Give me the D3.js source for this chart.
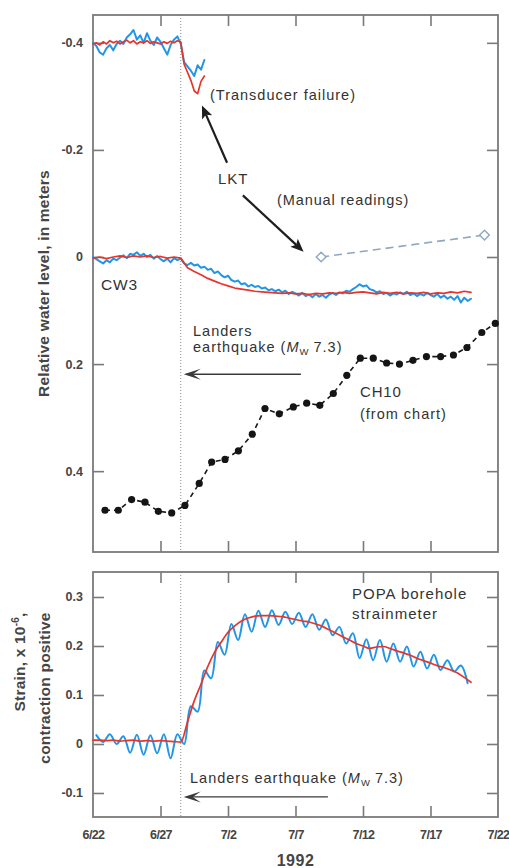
<!DOCTYPE html>
<html>
<head>
<meta charset="utf-8">
<script src="https://cdn.jsdelivr.net/npm/d3@7"></script>
<style>
  body { margin: 0; background: #fff; }
  svg { display: block; }
  text { font-family: "Liberation Sans", Arial, Helvetica, sans-serif; }
</style>
</head>
<body>
<svg id="chart" width="509" height="868"></svg>
<script>
// Time axis: days after 22 June 1992
const dateTicks = [0, 5, 10, 15, 20, 25, 30];
const dateLabels = ["6/22", "6/27", "7/2", "7/7", "7/12", "7/17", "7/22"];
const quakeDay = 6.5;   // Landers earthquake, 28 June 1992

// Water-level axis (depth to water, positive downward on the page)
const waterTicks = [-0.4, -0.2, 0, 0.2, 0.4];
const waterTickLabels = ["-0.4", "-0.2", "0", "0.2", "0.4"];

// Strain axis
const strainTicks = [-0.1, 0, 0.1, 0.2, 0.3];
const strainTickLabels = ["-0.1", "0", "0.1", "0.2", "0.3"];

// LKT well, transducer record (0.25-day samples from 6/22)
const lktStart = 0, lktStep = 0.25;
const lktBlue = [-0.400, -0.394, -0.382, -0.378, -0.390, -0.396, -0.386, -0.398, -0.404, -0.398,
  -0.410, -0.416, -0.424, -0.406, -0.414, -0.400, -0.418, -0.404, -0.396, -0.410,
  -0.402, -0.390, -0.378, -0.396, -0.406, -0.412, -0.398, -0.364, -0.356, -0.348,
  -0.338, -0.358, -0.350, -0.368];
const lktRed = [-0.398, -0.400, -0.396, -0.402, -0.398, -0.404, -0.400, -0.403, -0.398, -0.402,
  -0.405, -0.400, -0.404, -0.398, -0.402, -0.400, -0.404, -0.399, -0.402, -0.400,
  -0.398, -0.402, -0.399, -0.403, -0.400, -0.404, -0.402, -0.360, -0.345, -0.330,
  -0.310, -0.305, -0.328, -0.338];

// LKT manual readings
const manualDays = [16.9, 29.0];
const manualLevel = [0.0, -0.041];

// CW3 well
const cw3BlueStart = 0, cw3BlueStep = 0.25;
const cw3Blue = [0.000, 0.004, 0.008, 0.012, 0.006, 0.010, 0.003, 0.006, 0.001, -0.003,
  0.002, -0.006, -0.004, -0.009, -0.002, -0.006, 0.000, -0.004, 0.003, -0.002,
  0.004, 0.008, 0.003, 0.010, 0.002, 0.006, 0.003, 0.012, 0.015, 0.011,
  0.016, 0.014, 0.020, 0.018, 0.024, 0.022, 0.030, 0.027, 0.034, 0.038,
  0.035, 0.043, 0.046, 0.044, 0.051, 0.049, 0.055, 0.052, 0.056, 0.054,
  0.059, 0.057, 0.062, 0.060, 0.064, 0.061, 0.066, 0.063, 0.069, 0.065,
  0.068, 0.072, 0.067, 0.073, 0.070, 0.075, 0.069, 0.074, 0.071, 0.076,
  0.070, 0.067, 0.071, 0.066, 0.068, 0.063, 0.065, 0.060, 0.056, 0.051,
  0.055, 0.053, 0.060, 0.062, 0.066, 0.064, 0.069, 0.067, 0.072, 0.068,
  0.070, 0.066, 0.069, 0.065, 0.071, 0.068, 0.073, 0.069, 0.072, 0.067,
  0.071, 0.074, 0.069, 0.076, 0.072, 0.078, 0.074, 0.080, 0.073, 0.085,
  0.076, 0.082, 0.078];
const cw3RedStart = 0, cw3RedStep = 0.5;
const cw3Red = [0.002, 0.000, 0.003, 0.000, -0.002, 0.001, -0.002, 0.000, -0.002, 0.001,
  -0.001, 0.002, 0.000, 0.002, 0.020, 0.027, 0.033, 0.040, 0.045, 0.050,
  0.054, 0.058, 0.060, 0.062, 0.064, 0.065, 0.066, 0.067, 0.068, 0.067,
  0.069, 0.068, 0.070, 0.068, 0.069, 0.067, 0.068, 0.066, 0.068, 0.066,
  0.065, 0.067, 0.069, 0.066, 0.068, 0.066, 0.069, 0.067, 0.068, 0.066,
  0.069, 0.067, 0.068, 0.065, 0.067, 0.064, 0.066];

const ch10Days = [0.89, 1.87, 2.86, 3.85, 4.84, 5.83, 6.81, 7.87, 8.79, 9.78,
  10.77, 11.8, 12.74, 13.8, 14.84, 15.83, 16.8, 17.8, 18.8, 19.8,
  20.76, 21.75, 22.7, 23.7, 24.7, 25.75, 26.7, 27.7, 28.8, 29.8];
const ch10Level = [0.473, 0.473, 0.453, 0.458, 0.475, 0.478, 0.464, 0.423, 0.383, 0.378,
  0.362, 0.331, 0.283, 0.293, 0.280, 0.273, 0.277, 0.255, 0.221, 0.189,
  0.189, 0.198, 0.200, 0.193, 0.186, 0.186, 0.183, 0.169, 0.141, 0.124];

// POPA borehole strainmeter: raw (tidal) record and detided curve
const strainBlueStart = 0.25, strainBlueStep = 0.5;
const strainBlue = [0.018, 0.004, 0.020, 0.000, 0.016, -0.018, 0.019, -0.022, 0.018, -0.019,
  0.020, -0.029, 0.020, 0.000, 0.077, 0.066, 0.150, 0.134, 0.208, 0.182,
  0.245, 0.212, 0.265, 0.229, 0.272, 0.239, 0.273, 0.243, 0.270, 0.245,
  0.268, 0.239, 0.265, 0.233, 0.254, 0.222, 0.239, 0.205, 0.226, 0.175,
  0.214, 0.171, 0.212, 0.168, 0.205, 0.168, 0.199, 0.158, 0.188, 0.154,
  0.182, 0.151, 0.171, 0.148, 0.160, 0.124];
const strainRedStart = 0, strainRedStep = 0.5;
const strainRed = [0.008, 0.008, 0.007, 0.008, 0.006, 0.007, 0.008, 0.006, 0.007, 0.006,
  0.007, 0.006, 0.005, 0.004, 0.045, 0.088, 0.122, 0.158, 0.187, 0.208,
  0.228, 0.241, 0.251, 0.257, 0.261, 0.262, 0.262, 0.261, 0.260, 0.257,
  0.254, 0.251, 0.249, 0.245, 0.240, 0.233, 0.226, 0.219, 0.212, 0.205,
  0.200, 0.195, 0.198, 0.199, 0.195, 0.190, 0.186, 0.181, 0.175, 0.170,
  0.165, 0.160, 0.156, 0.151, 0.145, 0.136, 0.126];

// ---------------------------------------------------------------------------
const BLUE = "#2196e6", RED = "#e8352b", FRAME = "#7a7a7a", INK = "#333333";

const svg = d3.select("#chart");
const left = 93, right = 498;
const top1 = 15, bottom1 = 552;
const top2 = 572, bottom2 = 817;

const x = d3.scaleLinear().domain([0, 30]).range([left, right]);
const yW = d3.scaleLinear().domain([-0.452, 0.551]).range([top1, bottom1]);
const yS = d3.scaleLinear().domain([0.351, -0.149]).range([top2, bottom2]);

const series = (start, step, vals) => vals.map((v, i) => [start + i * step, v]);

function frame(yScale, y0, y1, ticks, labels, showDates) {
  const g = svg.append("g");
  const tick = 11;
  const axes = [
    g.append("g").attr("transform", `translate(${left},0)`)
      .call(d3.axisLeft(yScale).tickValues(ticks).tickFormat((d, i) => labels[i])
        .tickSizeInner(-tick).tickSizeOuter(0).tickPadding(10)),
    g.append("g").attr("transform", `translate(${right},0)`)
      .call(d3.axisRight(yScale).tickValues(ticks).tickFormat("")
        .tickSizeInner(-tick).tickSizeOuter(0)),
    g.append("g").attr("transform", `translate(0,${y0})`)
      .call(d3.axisTop(x).tickValues(dateTicks.slice(1, -1)).tickFormat("")
        .tickSizeInner(-tick).tickSizeOuter(0)),
    g.append("g").attr("transform", `translate(0,${y1})`)
      .call(d3.axisBottom(x).tickValues(showDates ? dateTicks : dateTicks.slice(1, -1))
        .tickFormat((d) => showDates ? dateLabels[dateTicks.indexOf(d)] : "")
        .tickSizeInner(-tick).tickSizeOuter(0).tickPadding(13))
  ];
  axes.forEach(a => {
    a.select(".domain").remove();
    a.selectAll(".tick line").attr("stroke", FRAME).attr("stroke-width", 1.6);
    a.selectAll(".tick text").attr("fill", "#454545").attr("font-size", 12.5)
      .attr("font-weight", "bold").attr("font-family", '"Liberation Sans", Arial, sans-serif');
  });
  if (showDates) {
    axes[3].selectAll(".tick line").filter(d => d === 0 || d === 30).remove();
    axes[3].selectAll(".tick text").attr("letter-spacing", -0.6);
  }
  // dotted line marking the earthquake
  g.append("line").attr("x1", x(quakeDay)).attr("x2", x(quakeDay))
    .attr("y1", y0).attr("y2", y1)
    .attr("stroke", "#8c8c8c").attr("stroke-width", 1).attr("stroke-dasharray", "1,2");
  g.append("rect").attr("x", left).attr("y", y0).attr("width", right - left).attr("height", y1 - y0)
    .attr("fill", "none").attr("stroke", FRAME).attr("stroke-width", 1.8);
}

frame(yW, top1, bottom1, waterTicks, waterTickLabels, false);
frame(yS, top2, bottom2, strainTicks, strainTickLabels, true);

// ---- traces ----
const lineW = d3.line().x(d => x(d[0])).y(d => yW(d[1]));
const lineS = d3.line().x(d => x(d[0])).y(d => yS(d[1]));

function trace(gen, data, color, width) {
  svg.append("path").datum(data).attr("d", gen)
    .attr("fill", "none").attr("stroke", color).attr("stroke-width", width)
    .attr("stroke-linejoin", "round").attr("stroke-linecap", "round");
}

trace(lineW, series(lktStart, lktStep, lktBlue), BLUE, 2);
trace(lineW, series(lktStart, lktStep, lktRed), RED, 1.7);
trace(lineW, series(cw3BlueStart, cw3BlueStep, cw3Blue), BLUE, 2);
trace(lineW, series(cw3RedStart, cw3RedStep, cw3Red), RED, 1.7);

// Manual readings at LKT
const manual = manualDays.map((d, i) => [d, manualLevel[i]]);
svg.append("path").datum(manual).attr("d", lineW)
  .attr("fill", "none").attr("stroke", "#8fa7c2").attr("stroke-width", 1.6)
  .attr("stroke-dasharray", "8,5");
svg.selectAll(".manual").data(manual).join("path").attr("class", "manual")
  .attr("d", d3.symbol(d3.symbolDiamond2, 60))
  .attr("transform", d => `translate(${x(d[0])},${yW(d[1])})`)
  .attr("fill", "#fff").attr("stroke", "#8fa7c2").attr("stroke-width", 1.4);

// CH10 chart readings
const ch10 = ch10Days.map((d, i) => [d, ch10Level[i]]);
svg.append("path").datum(ch10).attr("d", lineW)
  .attr("fill", "none").attr("stroke", "#1a1a1a").attr("stroke-width", 1.6)
  .attr("stroke-dasharray", "5,4");
svg.selectAll(".ch10").data(ch10).join("circle").attr("class", "ch10")
  .attr("cx", d => x(d[0])).attr("cy", d => yW(d[1])).attr("r", 3.6).attr("fill", "#151515");

// Strainmeter
const tidal = d3.line().x(d => x(d[0])).y(d => yS(d[1])).curve(d3.curveCatmullRom.alpha(0.5));
trace(tidal, series(strainBlueStart, strainBlueStep, strainBlue), BLUE, 2);
trace(lineS.curve(d3.curveMonotoneX), series(strainRedStart, strainRedStep, strainRed), RED, 1.7);

// ---- annotations ----
function label(px, py, str, opts = {}) {
  const t = svg.append("text").attr("x", px).attr("y", py)
    .attr("font-size", opts.size || 14.5).attr("fill", opts.fill || INK)
    .attr("letter-spacing", opts.ls === undefined ? 1.0 : opts.ls)
    .attr("text-anchor", opts.anchor || "start");
  if (opts.weight) t.attr("font-weight", opts.weight);
  t.text(str);
  return t;
}
function addMw(t) {
  t.append("tspan").text("earthquake (");
  t.append("tspan").attr("font-style", "italic").text("M");
  t.append("tspan").attr("font-size", 9.5).attr("dy", 3).attr("letter-spacing", 0).text("W");
  t.append("tspan").attr("dy", -3).text(" 7.3)");
  return t;
}

// Filled black arrow
function solidArrow(x1, y1, x2, y2) {
  const ang = Math.atan2(y2 - y1, x2 - x1);
  const len = 13, half = 5.5;
  const bx = x2 - len * Math.cos(ang), by = y2 - len * Math.sin(ang);
  svg.append("line").attr("x1", x1).attr("y1", y1).attr("x2", bx + 3 * Math.cos(ang)).attr("y2", by + 3 * Math.sin(ang))
    .attr("stroke", "#1e1e1e").attr("stroke-width", 2.2);
  const nx = -Math.sin(ang), ny = Math.cos(ang);
  const notch = 3;
  svg.append("path").attr("fill", "#1e1e1e").attr("d",
    `M${x2},${y2} L${bx + half * nx},${by + half * ny} L${bx + notch * Math.cos(ang)},${by + notch * Math.sin(ang)} L${bx - half * nx},${by - half * ny} Z`);
}
// Thin arrow with barbed head (earthquake markers)
function thinArrow(x1, y, x2) {
  svg.append("line").attr("x1", x1).attr("y1", y).attr("x2", x2 + 3).attr("y2", y)
    .attr("stroke", "#3a3a3a").attr("stroke-width", 1.3);
  svg.append("path").attr("fill", "#3a3a3a").attr("d",
    `M${x2},${y} L${x2 + 17},${y - 5.5} L${x2 + 9},${y} L${x2 + 17},${y + 5.5} Z`);
}

// LKT annotations
label(210, 100, "(Transducer failure)");
label(218, 184, "LKT", { size: 15, ls: 1 });
label(277, 205, "(Manual readings)", { ls: 0.9 });
solidArrow(x(9.93), yW(-0.176), x(8.07), yW(-0.283));
solidArrow(x(11.1), yW(-0.115), x(15.6), yW(-0.010));

label(101, 290, "CW3", { size: 15.5, ls: 0.8 });
label(193, 336, "Landers");
addMw(label(193, 352, ""));
thinArrow(x(15.4), yW(0.219), x(quakeDay) + 3);

label(360, 397, "CH10", { size: 15, ls: 0.8 });
label(360, 419, "(from chart)");

// Strainmeter annotations
label(352, 599, "POPA borehole", { size: 15, ls: 1.0 });
label(352, 619, "strainmeter", { size: 15, ls: 1.0 });
addMw(label(190, 783, "Landers "));
thinArrow(x(17.4), yS(-0.108), x(quakeDay) + 3);

// Axis titles
svg.append("text").attr("transform", `translate(49,${(top1 + bottom1) / 2}) rotate(-90)`)
  .attr("text-anchor", "middle").attr("font-size", 15.5).attr("font-weight", "bold")
  .attr("fill", "#454545").attr("letter-spacing", 0.2)
  .text("Relative water level, in meters");

const s1 = svg.append("text").attr("transform", "translate(25,662) rotate(-90)")
  .attr("text-anchor", "middle").attr("font-size", 15.5).attr("font-weight", "bold")
  .attr("fill", "#454545").attr("letter-spacing", 0.2);
s1.append("tspan").text("Strain, x 10");
s1.append("tspan").attr("font-size", 10).attr("dy", -6).text("-6");
s1.append("tspan").attr("dy", 6).text(",");
svg.append("text").attr("transform", "translate(50,688) rotate(-90)")
  .attr("text-anchor", "middle").attr("font-size", 15.5).attr("font-weight", "bold")
  .attr("fill", "#454545").attr("letter-spacing", 0.2)
  .text("contraction positive");

svg.append("text").attr("x", x(15)).attr("y", 866).attr("text-anchor", "middle")
  .attr("font-size", 16).attr("font-weight", "bold").attr("fill", "#454545")
  .attr("letter-spacing", 0.5).text("1992");
</script>
</body>
</html>
